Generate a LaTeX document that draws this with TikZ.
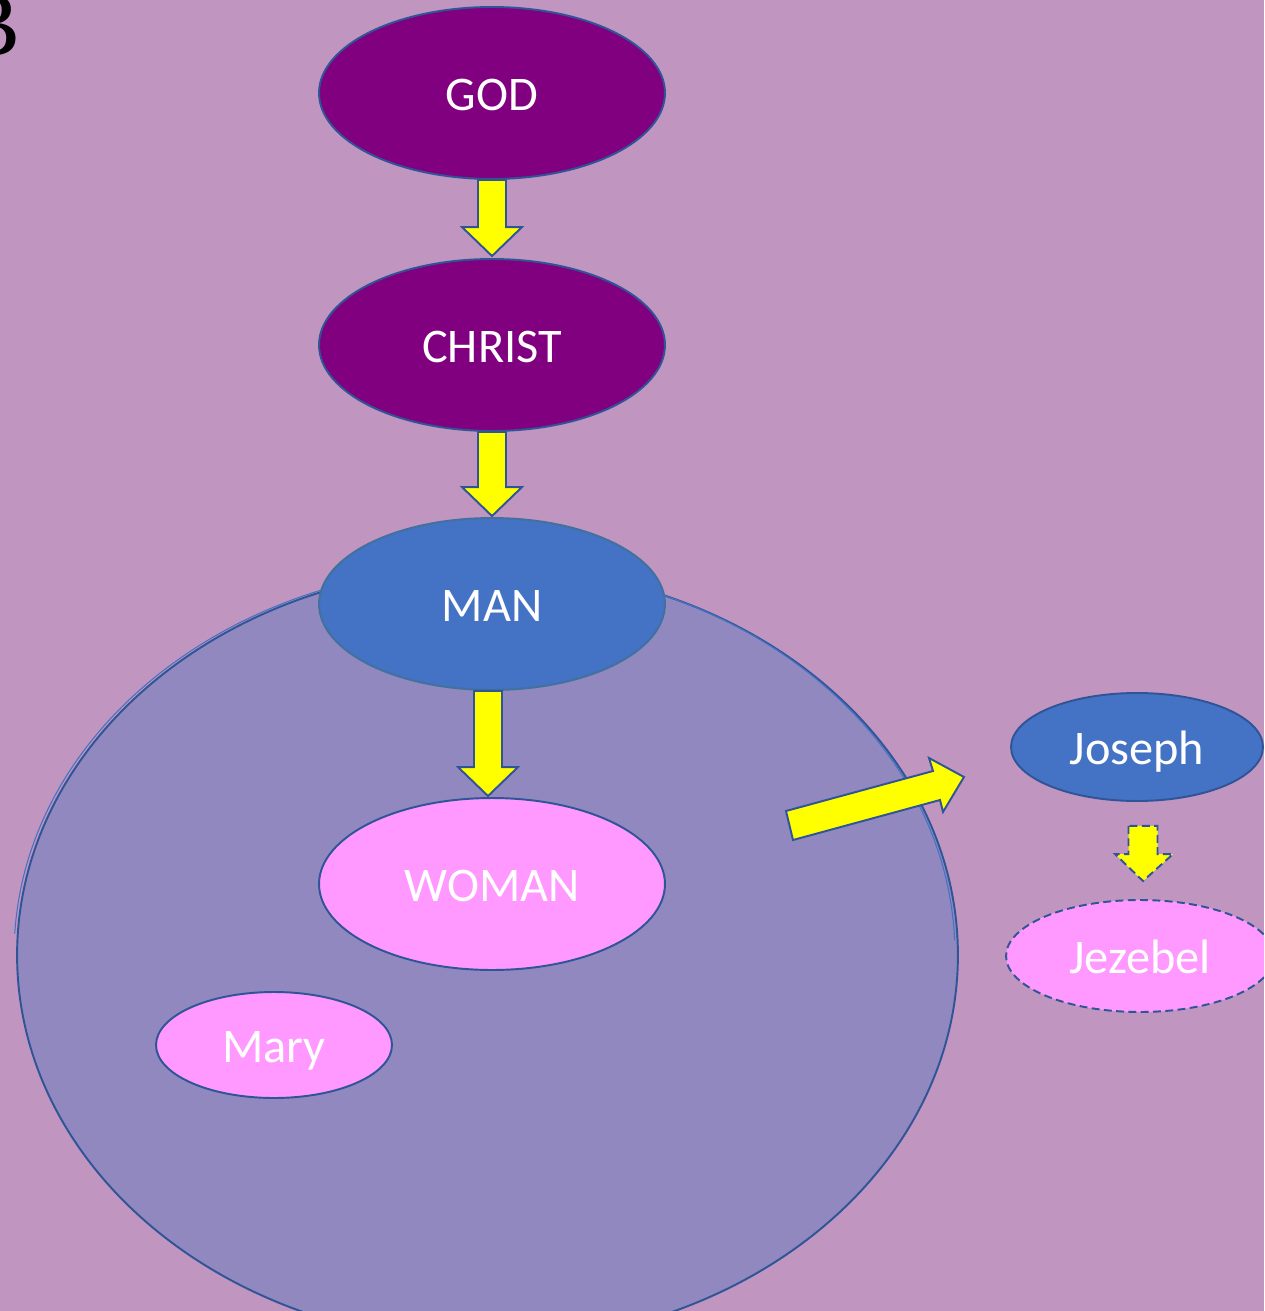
\documentclass[tikz,border=0pt]{standalone}
\usepackage{fontspec}
\setmainfont{Carlito}
\newfontfamily\bfont{Liberation Serif}
\usetikzlibrary{shapes.geometric,calc}
\definecolor{bgc}{HTML}{C095C0}
\definecolor{bigc}{HTML}{9088BF}
\definecolor{edge}{HTML}{2F5597}
\definecolor{purp}{HTML}{800080}
\definecolor{blu}{HTML}{4472C4}
\definecolor{manedge}{HTML}{41719C}
\definecolor{pnk}{HTML}{FF99FF}
\definecolor{yel}{HTML}{FFFF00}
\tikzset{
  oval/.style={ellipse, draw=edge, line width=1.1pt, text=white, inner sep=0pt,
    text height=20pt, text depth=0.6pt,
    font=\fontsize{27.5pt}{30pt}\selectfont},
  bigoval/.style={oval, minimum width=6.92cm, minimum height=3.44cm},
  blockarrow/.style={fill=yel, draw=edge, line width=1.1pt, line join=miter},
  dashedge/.style={dash pattern=on 4.5pt off 2.5pt},
}
\newcommand{\downblock}[3][]{%
  \draw[blockarrow,#1] ($(#2)+(-14,0)$) -- ($(#3)+(-14,-29)$) -- ($(#3)+(-30,-29)$)
    -- (#3) -- ($(#3)+(30,-29)$) -- ($(#3)+(14,-29)$) -- ($(#2)+(14,0)$) -- cycle;}
\begin{document}
\begin{tikzpicture}[x=0.02cm, y=-0.02cm]
  \useasboundingbox (0,0) rectangle (1264,1311);
  \clip (0,0) rectangle (1264,1311);
  \fill[bgc] (0,0) rectangle (1264,1311);
  % letter B
  \node[anchor=base east, inner sep=0pt] (letterb) at (21,56)
    {\bfont\fontsize{52pt}{52pt}\selectfont B};
  % big circle
  \node[ellipse, fill=bigc, draw=edge, line width=1.1pt, inner sep=0pt,
        minimum width=18.82cm, minimum height=15.52cm] (circ) at (487.5,955) {};
  \draw[blu, line width=0.6pt] ($(circ.center)+(-3,-1)+(177:9.41cm and 7.76cm)$)
    arc[start angle=177, end angle=2, x radius=9.41cm, y radius=7.76cm];
  % nodes
  \node[bigoval, fill=purp] (god) at (492,93) {GOD};
  \node[bigoval, fill=purp] (christ) at (492,345) {CHRIST};
  \node[bigoval, fill=blu, draw=manedge] (man) at (492,604) {MAN};
  \node[bigoval, fill=pnk] (woman) at (492,884) {WOMAN};
  \node[oval, fill=pnk, minimum width=4.72cm, minimum height=2.12cm] (mary) at (274,1045) {Mary};
  \node[oval, fill=blu, minimum width=5.04cm, minimum height=2.16cm] (joseph) at (1137,747) {Joseph};
  \node[oval, fill=pnk, dashedge, minimum width=5.36cm, minimum height=2.24cm] (jezebel) at (1140,956) {Jezebel};
  % block arrows
  \downblock{god.south}{$(christ.north)+(0,-2)$}
  \downblock{christ.south}{$(man.north)+(0,-1)$}
  \coordinate (m1) at ($(man.south)+(-4,0)$);
  \coordinate (w1) at ($(woman.north)+(-4,-1)$);
  \downblock{m1}{w1}
  \coordinate (j1) at ($(joseph.south)+(6,24)$);
  \coordinate (j2) at ($(jezebel.north)+(3,-18)$);
  \draw[blockarrow, dashedge] ($(j1)+(-14.5,0)$) -- ($(j2)+(-14.5,-27)$) -- ($(j2)+(-28,-27)$)
    -- (j2) -- ($(j2)+(30,-27)$) -- ($(j2)+(14.5,-27)$) -- ($(j1)+(14.5,0)$) -- cycle;
  % tilted arrow out of the circle
  \draw[blockarrow] (786,811) -- (933,771) -- (929,758) -- (964,777) -- (943,812)
    -- (940,800) -- (793,840) -- cycle;
\end{tikzpicture}
\end{document}
